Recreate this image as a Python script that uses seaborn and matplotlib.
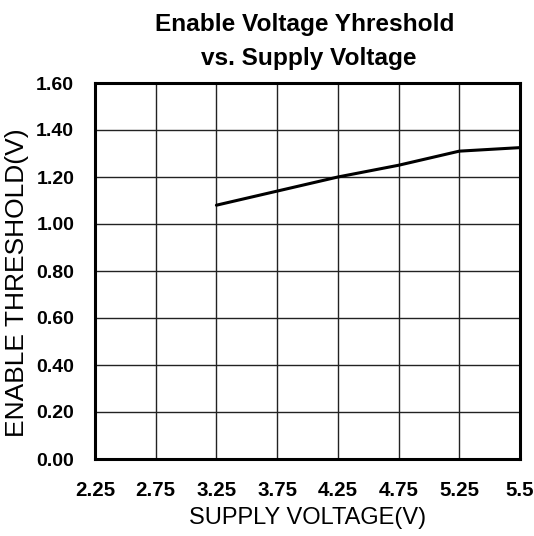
import matplotlib
matplotlib.use("Agg")
import matplotlib.pyplot as plt
import seaborn as sns
import pandas as pd

# Data
x_tick_labels = ["2.25", "2.75", "3.25", "3.75", "4.25", "4.75", "5.25", "5.5"]
supply_voltage = [3.25, 3.75, 4.25, 4.75, 5.25, 5.5]
enable_threshold = [1.08, 1.14, 1.20, 1.25, 1.31, 1.325]
y_ticks = [0.0, 0.2, 0.4, 0.6, 0.8, 1.0, 1.2, 1.4, 1.6]

# Map voltages to equally spaced category positions
pos = {float(l): i for i, l in enumerate(x_tick_labels)}
df = pd.DataFrame({"pos": [pos[v] for v in supply_voltage], "thr": enable_threshold})

sns.set_theme(style="white")
plt.rcParams['font.family'] = ['Liberation Sans', 'DejaVu Sans']
plt.rcParams['text.color'] = 'black'
plt.rcParams['axes.labelcolor'] = 'black'
plt.rcParams['xtick.color'] = 'black'
plt.rcParams['ytick.color'] = 'black'

fig = plt.figure(figsize=(5.34, 5.36), dpi=100)
ax = fig.add_axes([95/534, 77/536, 425/534, 376/536])

sns.lineplot(data=df, x="pos", y="thr", ax=ax, color="black", linewidth=2.2)

ax.set_xlim(0, len(x_tick_labels) - 1)
ax.set_ylim(0, 1.6)
ax.set_xticks(range(len(x_tick_labels)))
ax.set_xticklabels(x_tick_labels, fontsize=14.8, fontweight="bold")
ax.set_yticks(y_ticks)
ax.set_yticklabels([f"{v:.2f}" for v in y_ticks], fontsize=14, fontweight="bold")
ax.tick_params(axis="x", length=0, pad=16)
ax.tick_params(axis="y", length=0, pad=15)

ax.grid(True, color="#222222", linewidth=1.0)
for s in ax.spines.values():
    s.set_visible(True)
    s.set_color("black")
    s.set_linewidth(2.2)

ax.set_xlabel("SUPPLY VOLTAGE(V)", fontsize=17, labelpad=5)
ax.set_ylabel("ENABLE THRESHOLD(V)", fontsize=19)
ax.yaxis.set_label_coords(-0.155, 0.47)

fig.text(305/534, 1 - 24/536, "Enable Voltage Yhreshold",
         ha="center", va="center", fontsize=17.6, fontweight="bold")
fig.text(309/534, 1 - 58/536, "vs. Supply Voltage",
         ha="center", va="center", fontsize=17.6, fontweight="bold")

fig.savefig("out.png", dpi=100, facecolor="white")
